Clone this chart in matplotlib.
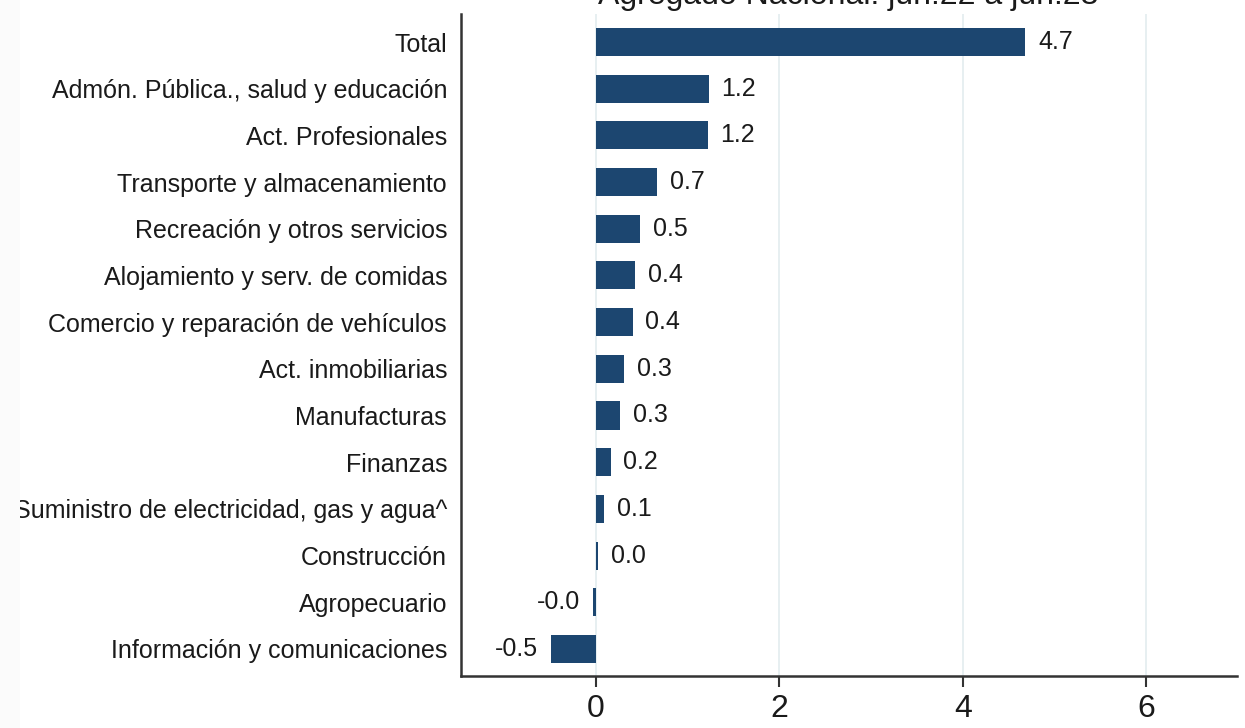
import numpy as np
from matplotlib import pyplot as plt
from matplotlib.patches import Rectangle

# data (top to bottom)
sectores = ["Total",
            "Admón. Pública., salud y educación",
            "Act. Profesionales",
            "Transporte y almacenamiento",
            "Recreación y otros servicios",
            "Alojamiento y serv. de comidas",
            "Comercio y reparación de vehículos",
            "Act. inmobiliarias",
            "Manufacturas",
            "Finanzas",
            "Suministro de electricidad, gas y agua^",
            "Construcción",
            "Agropecuario",
            "Información y comunicaciones"]
valores = [4.68, 1.23, 1.22, 0.67, 0.48, 0.43, 0.40, 0.31, 0.26, 0.16, 0.09, 0.02, -0.03, -0.49]
titulo = "Agregado Nacional: jun.22 a jun.23"
xticks = [0, 2, 4, 6]

plt.rcParams['font.family'] = ['Liberation Sans', 'DejaVu Sans']
bar_color = "#1c4670"
txt_color = "#1a1a1a"

fig = plt.figure(figsize=(12.45, 7.28), dpi=100)
ax = fig.add_axes([461/1245, 1-676/728, (1237-461)/1245, (676-14)/728])

y = np.arange(len(sectores))
ax.barh(y, valores, height=0.6, color=bar_color, zorder=3)
for yi, v in zip(y, valores):
    txt = "%.1f" % v
    if v >= 0:
        ax.text(v + 0.14, yi, txt, va='center', ha='left', fontsize=18, color=txt_color)
    else:
        ax.text(v - 0.14, yi, txt, va='center', ha='right', fontsize=18, color=txt_color)

ax.set_yticks(y)
ax.set_yticklabels(sectores, fontsize=18, color=txt_color)
ax.set_ylim(len(sectores) - 0.42, -0.6)
ax.set_xlim(-1.47, 6.99)
ax.set_xticks(xticks)
ax.set_xticklabels([str(t) for t in xticks], fontsize=23, color=txt_color)
ax.tick_params(axis='y', length=0, pad=10)
ax.tick_params(axis='x', length=8, width=1.5, color="#333333", pad=5)
ax.grid(axis='x', color="#e3ecef", linewidth=1.2, zorder=0)
ax.set_axisbelow(True)
for s in ['top', 'right']:
    ax.spines[s].set_visible(False)
for s in ['left', 'bottom']:
    ax.spines[s].set_linewidth(1.8)
    ax.spines[s].set_color("#333333")

fig.text(848/1245, 1 - 4/728, titulo, ha='center', va='baseline', fontsize=23, color=txt_color)
# light strip at left edge, as in the cropped original
fig.add_artist(Rectangle((0, 0), 20/1245, 1, transform=fig.transFigure,
                         facecolor="#fbfbfb", edgecolor='none', zorder=10))

plt.savefig("out.png", dpi=100)
plt.close()
